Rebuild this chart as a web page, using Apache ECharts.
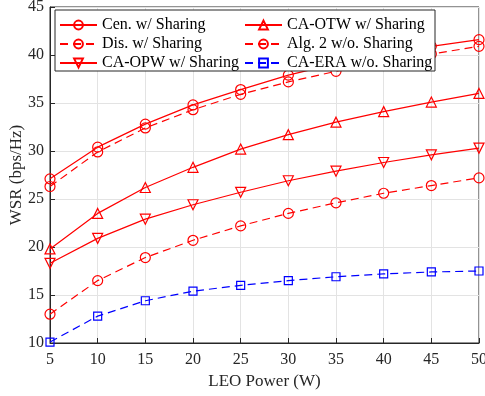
<!DOCTYPE html>
<html>
<head>
<meta charset="utf-8">
<script src="https://cdn.jsdelivr.net/npm/echarts@6/dist/echarts.min.js"></script>
<style>
  html, body { margin: 0; padding: 0; background: #fff; }
  #chart { width: 485px; height: 396px; }
</style>
</head>
<body>
<div id="chart"></div>
<script>
// LEO power (W)
var power = [5, 10, 15, 20, 25, 30, 35, 40, 45, 50]

// WSR (bps/Hz) per scheme
var cenShare = [27.1, 30.4, 32.8, 34.8, 36.4, 37.9, 39.1, 40.1, 40.9, 41.6]
var disShare = [26.3, 29.9, 32.4, 34.3, 35.9, 37.2, 38.3, 39.3, 40.1, 40.9]
var otwShare = [19.8, 23.5, 26.2, 28.3, 30.2, 31.7, 33.0, 34.1, 35.1, 36.0]
var alg2NoShare = [13.0, 16.5, 18.9, 20.7, 22.2, 23.5, 24.6, 25.6, 26.4, 27.2]
var opwShare = [18.3, 20.9, 22.9, 24.4, 25.7, 26.9, 27.9, 28.8, 29.6, 30.3]
var eraNoShare = [10.1, 12.8, 14.4, 15.4, 16.0, 16.5, 16.9, 17.2, 17.4, 17.5]

var yTicks = [10, 15, 20, 25, 30, 35, 40, 45]

var font = 'Liberation Serif'
var RED = '#ff0000'
var BLUE = '#0000ff'

function pairs(ys) {
  return power.map(function (x, i) { return [x, ys[i]] })
}

function mk(name, ys, color, symbol, dashed, opts) {
  opts = opts || {}
  return {
    name: name,
    type: 'line',
    data: pairs(ys),
    symbol: symbol,
    symbolSize: opts.size || 10,
    symbolRotate: opts.rotate || 0,
    showAllSymbol: true,
    lineStyle: { color: color, width: 1.2, type: dashed ? [8, 5] : 'solid' },
    itemStyle: { color: 'rgba(255,255,255,0)', borderColor: color, borderWidth: 1.2 },
    emphasis: { disabled: true },
    z: 3
  }
}

var chart = echarts.init(document.getElementById('chart'))

var legendCommon = {
  orient: 'vertical',
  top: 12,
  itemWidth: 37,
  itemHeight: 11,
  itemGap: 3,
  z: 10,
  textStyle: { fontFamily: font, fontSize: 16, color: '#000', lineHeight: 16 },
  selectedMode: false
}

chart.setOption({
  animation: false,
  backgroundColor: '#fff',
  grid: {
    left: 50, right: 6, top: 7, bottom: 53,
    outerBoundsMode: 'none',
    containLabel: false,
    show: true, borderColor: '#262626', borderWidth: 1, backgroundColor: 'transparent'
  },
  graphic: [{
    type: 'rect',
    z: 8,
    shape: { x: 55, y: 10, width: 380, height: 61 },
    style: { fill: '#fff', stroke: '#262626', lineWidth: 1 }
  }],
  legend: [
    Object.assign({}, legendCommon, {
      left: 54,
      data: ['Cen. w/ Sharing', 'Dis. w/ Sharing', 'CA-OPW w/ Sharing']
    }),
    Object.assign({}, legendCommon, {
      left: 239,
      data: ['CA-OTW w/ Sharing', 'Alg. 2 w/o. Sharing', 'CA-ERA w/o. Sharing']
    })
  ],
  xAxis: {
    type: 'value',
    min: 5, max: 50, interval: 5,
    name: 'LEO Power (W)',
    nameLocation: 'middle',
    nameGap: 30,
    nameMoveOverlap: false,
    nameTextStyle: { fontFamily: font, fontSize: 17, color: '#262626' },
    axisLine: { show: true, lineStyle: { color: '#262626', width: 1 } },
    axisTick: { show: true, inside: true, length: 5, lineStyle: { color: '#262626' } },
    axisLabel: { fontFamily: font, fontSize: 16, color: '#262626', margin: 9 },
    splitLine: { show: true, lineStyle: { color: '#e3e3e3', width: 1 } }
  },
  yAxis: {
    type: 'value',
    min: yTicks[0], max: yTicks[yTicks.length - 1], interval: 5,
    name: 'WSR (bps/Hz)',
    nameLocation: 'middle',
    nameGap: 25,
    nameMoveOverlap: false,
    nameTextStyle: { fontFamily: font, fontSize: 17, color: '#262626' },
    axisLine: { show: true, lineStyle: { color: '#262626', width: 1 } },
    axisTick: { show: true, inside: true, length: 5, lineStyle: { color: '#262626' } },
    axisLabel: { fontFamily: font, fontSize: 16, color: '#262626', margin: 6 },
    splitLine: { show: true, lineStyle: { color: '#e3e3e3', width: 1 } }
  },
  series: [
    mk('Cen. w/ Sharing', cenShare, RED, 'circle', false),
    mk('Dis. w/ Sharing', disShare, RED, 'circle', true),
    mk('CA-OPW w/ Sharing', opwShare, RED, 'triangle', false, { rotate: 180 }),
    mk('CA-OTW w/ Sharing', otwShare, RED, 'triangle', false),
    mk('Alg. 2 w/o. Sharing', alg2NoShare, RED, 'circle', true),
    mk('CA-ERA w/o. Sharing', eraNoShare, BLUE, 'rect', true, { size: 8 })
  ]
})
</script>
</body>
</html>
